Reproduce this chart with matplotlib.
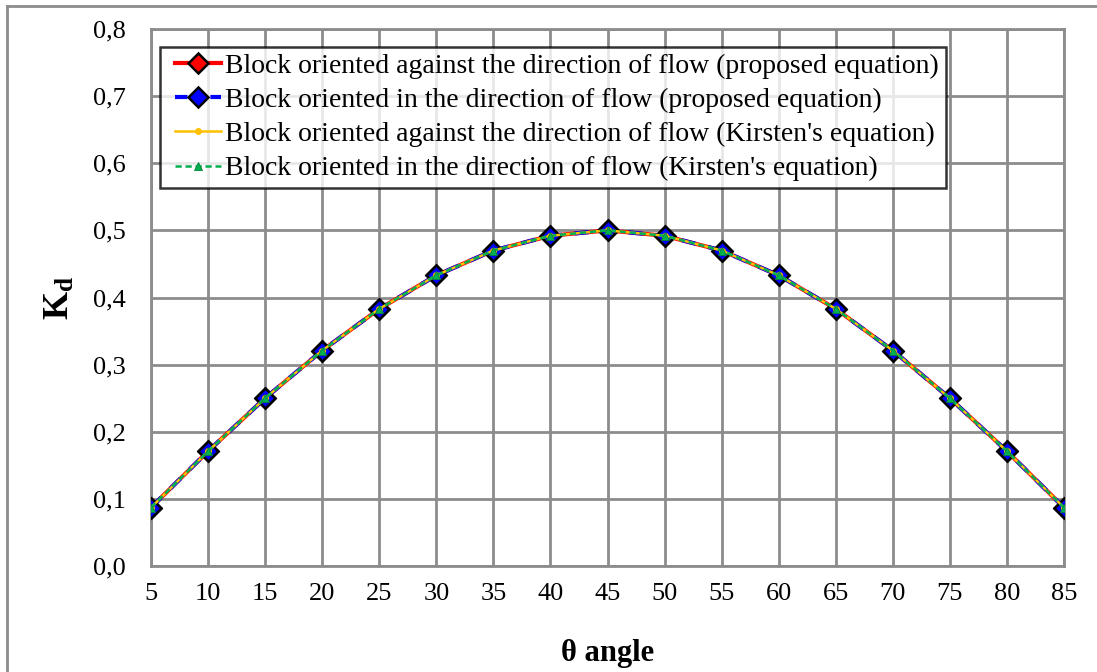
import matplotlib
matplotlib.use("Agg")
import matplotlib.pyplot as plt
from matplotlib.lines import Line2D
from matplotlib.legend_handler import HandlerLine2D

# Drag coefficient K_d against block angle θ
theta = [5, 10, 15, 20, 25, 30, 35, 40, 45, 50, 55, 60, 65, 70, 75, 80, 85]
kd_against_proposed = [0.087, 0.171, 0.250, 0.321, 0.383, 0.433, 0.470, 0.492, 0.500,
                       0.492, 0.470, 0.433, 0.383, 0.321, 0.250, 0.171, 0.087]
kd_direction_proposed = [0.087, 0.171, 0.250, 0.321, 0.383, 0.433, 0.470, 0.492, 0.500,
                         0.492, 0.470, 0.433, 0.383, 0.321, 0.250, 0.171, 0.087]
kd_against_kirsten = [0.087, 0.171, 0.250, 0.321, 0.383, 0.433, 0.470, 0.492, 0.500,
                      0.492, 0.470, 0.433, 0.383, 0.321, 0.250, 0.171, 0.087]
kd_direction_kirsten = [0.087, 0.171, 0.250, 0.321, 0.383, 0.433, 0.470, 0.492, 0.500,
                        0.492, 0.470, 0.433, 0.383, 0.321, 0.250, 0.171, 0.087]
y_ticks = [0.0, 0.1, 0.2, 0.3, 0.4, 0.5, 0.6, 0.7, 0.8]
y_tick_labels = ["0,0", "0,1", "0,2", "0,3", "0,4", "0,5", "0,6", "0,7", "0,8"]
labels = [
    "Block oriented against the direction of flow (proposed equation)",
    "Block oriented in the direction of flow (proposed equation)",
    "Block oriented against the direction of flow (Kirsten's equation)",
    "Block oriented in the direction of flow (Kirsten's equation)",
]

plt.rcParams["font.family"] = ["Liberation Serif", "DejaVu Serif"]
plt.rcParams["mathtext.fontset"] = "custom"
plt.rcParams["mathtext.rm"] = "Liberation Serif"
plt.rcParams["mathtext.bf"] = "Liberation Serif:bold"
plt.rcParams["mathtext.it"] = "Liberation Serif:italic"

W, H = 1097, 672
fig = plt.figure(figsize=(W / 100, H / 100), dpi=100)
ax = fig.add_axes([151 / W, 1 - 566 / H, (1064 - 151) / W, (566 - 29) / H])

grid_c = "#8c8c8c"
styles = [
    dict(color="#ff0000", lw=3.0, marker="D", ms=10, mfc="#ff0000", mec="black", mew=1.8),
    dict(color="#0000ff", lw=3.0, ls=(0, (3.5, 3)), marker="D", ms=10, mfc="#0000ff",
         mec="black", mew=1.8),
    dict(color="#ffc000", lw=1.8, marker="o", ms=4, mfc="#ffc000", mec="#ffc000"),
    dict(color="#00b050", lw=1.8, ls=(0, (2.5, 1.5)), marker="^", ms=6, mfc="#00b050",
         mec="#00803a", mew=0.6),
]
series = [kd_against_proposed, kd_direction_proposed, kd_against_kirsten, kd_direction_kirsten]
for i, (vals, st) in enumerate(zip(series, styles)):
    ax.plot(theta, vals, zorder=3 + i, label=labels[i], **st)

ax.set_xlim(5, 85)
ax.set_ylim(0, 0.8)
ax.set_xticks(theta)
ax.set_xticklabels([str(t) for t in theta], fontsize=19)
ax.set_yticks(y_ticks)
ax.set_yticklabels(y_tick_labels, fontsize=19)
ax.tick_params(axis="y", length=0, pad=18)
ax.tick_params(axis="x", length=0, pad=12)
ax.grid(True, color=grid_c, lw=2.0)
ax.set_axisbelow(True)
for s in ax.spines.values():
    s.set_color(grid_c)
    s.set_linewidth(2.0)

ax.set_xlabel("θ angle", fontsize=22, fontweight="bold", labelpad=25)
ax.set_ylabel(r"$\mathbf{K_d}$", fontsize=26, labelpad=12)

# legend keys: the dashed blue key shows a dash on each side of its marker
legend_styles = [dict(st) for st in styles]
legend_styles[1]["ls"] = (0, (3, 5.5))
handles = [Line2D([], [], **st) for st in legend_styles]
leg = ax.legend(handles, labels, loc="upper left", bbox_to_anchor=(0.0099, 0.967),
                fontsize=20, frameon=True, fancybox=False, borderpad=0.25,
                handlelength=1.95, handletextpad=0.15, labelspacing=0.31,
                borderaxespad=0.0, handler_map={Line2D: HandlerLine2D(xpad=0.3)})
leg.get_frame().set_edgecolor("black")
leg.get_frame().set_linewidth(1.8)

# chart area border (left and top)
fig.add_artist(Line2D([7 / W, 7 / W], [0, 1 - 6 / H], color=grid_c, lw=2.0, transform=fig.transFigure))
fig.add_artist(Line2D([7 / W, 1], [1 - 6 / H, 1 - 6 / H], color=grid_c, lw=2.0, transform=fig.transFigure))

fig.savefig("out.png", dpi=100)
